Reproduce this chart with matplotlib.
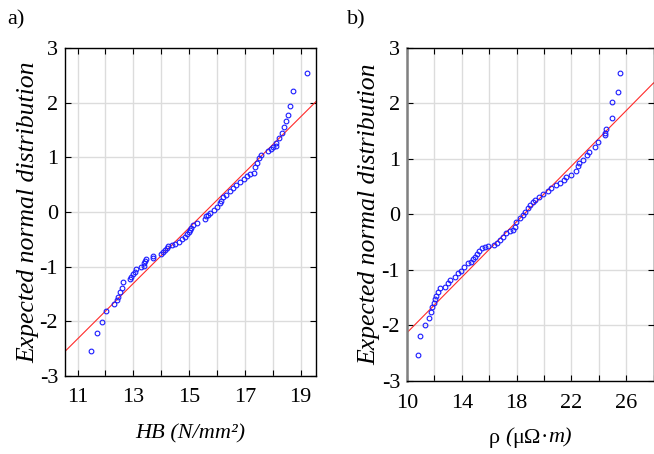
import matplotlib
matplotlib.use("Agg")
import matplotlib.pyplot as plt
from matplotlib.ticker import MultipleLocator
from matplotlib.offsetbox import TextArea, HPacker, AnchoredOffsetbox

plt.rcParams['font.family'] = ['Liberation Serif', 'DejaVu Serif']
plt.rcParams['axes.unicode_minus'] = False

# ---- panel a) : HB ----
hb_x = [11.50, 11.68, 11.86, 12.03, 12.31, 12.40, 12.46, 12.53, 12.60, 12.63,
        12.89, 12.92, 12.99, 13.06, 13.11, 13.29, 13.37, 13.40, 13.42, 13.46,
        13.70, 13.71, 14.00, 14.08, 14.14, 14.20, 14.26, 14.38, 14.50, 14.62,
        14.74, 14.84, 14.92, 15.00, 15.04, 15.07, 15.14, 15.30, 15.58, 15.62,
        15.68, 15.76, 15.88, 16.00, 16.09, 16.14, 16.22, 16.33, 16.48, 16.58,
        16.69, 16.81, 16.96, 17.08, 17.20, 17.32, 17.38, 17.44, 17.51, 17.56,
        17.82, 17.94, 18.01, 18.10, 18.13, 18.22, 18.34, 18.42, 18.49, 18.56,
        18.61, 18.71, 19.21]
hb_y = [-2.54, -2.21, -2.02, -1.82, -1.68, -1.61, -1.55, -1.46, -1.39, -1.28,
        -1.23, -1.18, -1.14, -1.10, -1.05, -1.01, -0.98, -0.94, -0.90, -0.86,
        -0.84, -0.80, -0.77, -0.73, -0.69, -0.66, -0.63, -0.61, -0.58, -0.54,
        -0.49, -0.45, -0.41, -0.37, -0.33, -0.29, -0.24, -0.20, -0.12, -0.08,
        -0.05, -0.01, 0.04, 0.09, 0.16, 0.21, 0.27, 0.31, 0.38, 0.44,
        0.50, 0.55, 0.61, 0.65, 0.69, 0.72, 0.82, 0.90, 0.98, 1.05,
        1.12, 1.15, 1.18, 1.20, 1.26, 1.35, 1.44, 1.55, 1.66, 1.77,
        1.94, 2.21, 2.54]
hb_fit_x = [10.55, 19.55]
hb_fit_y = [-2.55, 2.02]
hb_ticks = [11, 13, 15, 17, 19]

# ---- panel b) : resistivity ----
rho_x = [10.78, 10.92, 11.28, 11.62, 11.75, 11.82, 11.94, 12.06, 12.13, 12.23,
         12.38, 12.79, 13.03, 13.15, 13.52, 13.76, 13.93, 14.17, 14.49, 14.65,
         14.85, 14.97, 15.09, 15.29, 15.45, 15.70, 15.94, 16.35, 16.55, 16.79,
         17.03, 17.22, 17.51, 17.76, 17.85, 17.97, 18.22, 18.47, 18.65, 18.82,
         19.00, 19.19, 19.38, 19.62, 19.91, 20.28, 20.52, 20.89, 21.18, 21.49,
         21.61, 21.98, 22.34, 22.46, 22.58, 22.82, 23.11, 23.31, 23.75, 23.92,
         24.47, 24.47, 24.52, 24.98, 24.98, 25.39, 25.54]
rho_y = [-2.53, -2.19, -2.00, -1.87, -1.75, -1.67, -1.60, -1.53, -1.47, -1.39,
         -1.33, -1.30, -1.24, -1.18, -1.12, -1.06, -1.01, -0.94, -0.88, -0.85,
         -0.81, -0.76, -0.71, -0.65, -0.61, -0.58, -0.57, -0.55, -0.52, -0.46,
         -0.40, -0.34, -0.30, -0.28, -0.22, -0.13, -0.07, -0.01, 0.05, 0.11,
         0.17, 0.23, 0.27, 0.32, 0.37, 0.43, 0.47, 0.53, 0.57, 0.63,
         0.67, 0.71, 0.79, 0.87, 0.93, 0.99, 1.07, 1.13, 1.22, 1.31,
         1.43, 1.47, 1.54, 1.73, 2.02, 2.21, 2.55]
rho_fit_x = [10.0, 28.0]
rho_fit_y = [-2.13, 2.37]
rho_ticks = [10, 14, 18, 22, 26]

y_ticks = [-3, -2, -1, 0, 1, 2, 3]

fig = plt.figure(figsize=(6.54, 4.54), dpi=100)
ax1 = fig.add_axes([65/654, 1-376/454, 251/654, 328/454])
ax2 = fig.add_axes([407/654, 1-381/454, 246.5/654, 333/454])

FS = 16
YFS = 18.5
grid_c = '#dcdcdc'

def style(ax, xlim, ticks, minor, label_x):
    ax.set_xlim(*xlim)
    ax.set_ylim(-3, 3)
    ax.set_xticks(ticks)
    ax.xaxis.set_minor_locator(MultipleLocator(minor))
    ax.set_yticks(y_ticks)
    ax.grid(True, which='both', color=grid_c, lw=1.0)
    ax.set_axisbelow(True)
    ax.tick_params(which='both', direction='in', top=True, right=True,
                   length=4, width=0.8, labelsize=FS, pad=5)
    ax.tick_params(axis='x', which='both', pad=9)
    for s in ax.spines.values():
        s.set_linewidth(1.0)
        s.set_color('black')
    ax.set_ylabel('Expected normal distribution', fontsize=YFS, style='italic')
    ax.yaxis.set_label_coords(label_x, 0.5)

style(ax1, (10.55, 19.55), hb_ticks, 1, -0.103)
style(ax2, (10, 28), rho_ticks, 2, -0.108)
ax2.spines['left'].set_color('#808080')
ax2.spines['left'].set_linewidth(1.8)

for ax, xs, ys, fx, fy in [(ax1, hb_x, hb_y, hb_fit_x, hb_fit_y),
                           (ax2, rho_x, rho_y, rho_fit_x, rho_fit_y)]:
    ax.plot(fx, fy, color='#ff2a2a', lw=0.8, zorder=2)
    ax.plot(xs, ys, 'o', ms=3.4, mfc='none', mec='#1a1aff', mew=0.8, zorder=3)

ax1.set_xlabel('HB (N/mm²)', fontsize=FS, style='italic', labelpad=12)

up = dict(fontsize=FS, style='normal')
it = dict(fontsize=FS, style='italic')
pieces = [TextArea('ρ ', textprops=up), TextArea('(', textprops=it),
          TextArea('μΩ', textprops=up), TextArea('·', textprops=up),
          TextArea('m)', textprops=it)]
pack = HPacker(children=pieces, sep=0, pad=0, align='baseline')
box = AnchoredOffsetbox(loc='center', child=pack, pad=0, borderpad=0,
                        frameon=False, bbox_to_anchor=(0.5, -0.172),
                        bbox_transform=ax2.transAxes)
ax2.add_artist(box)

fig.text(7/654, 1-20/454, 'a)', fontsize=FS, va='center', ha='left')
fig.text(347/654, 1-20/454, 'b)', fontsize=FS, va='center', ha='left')

fig.savefig('out.png', dpi=100)
